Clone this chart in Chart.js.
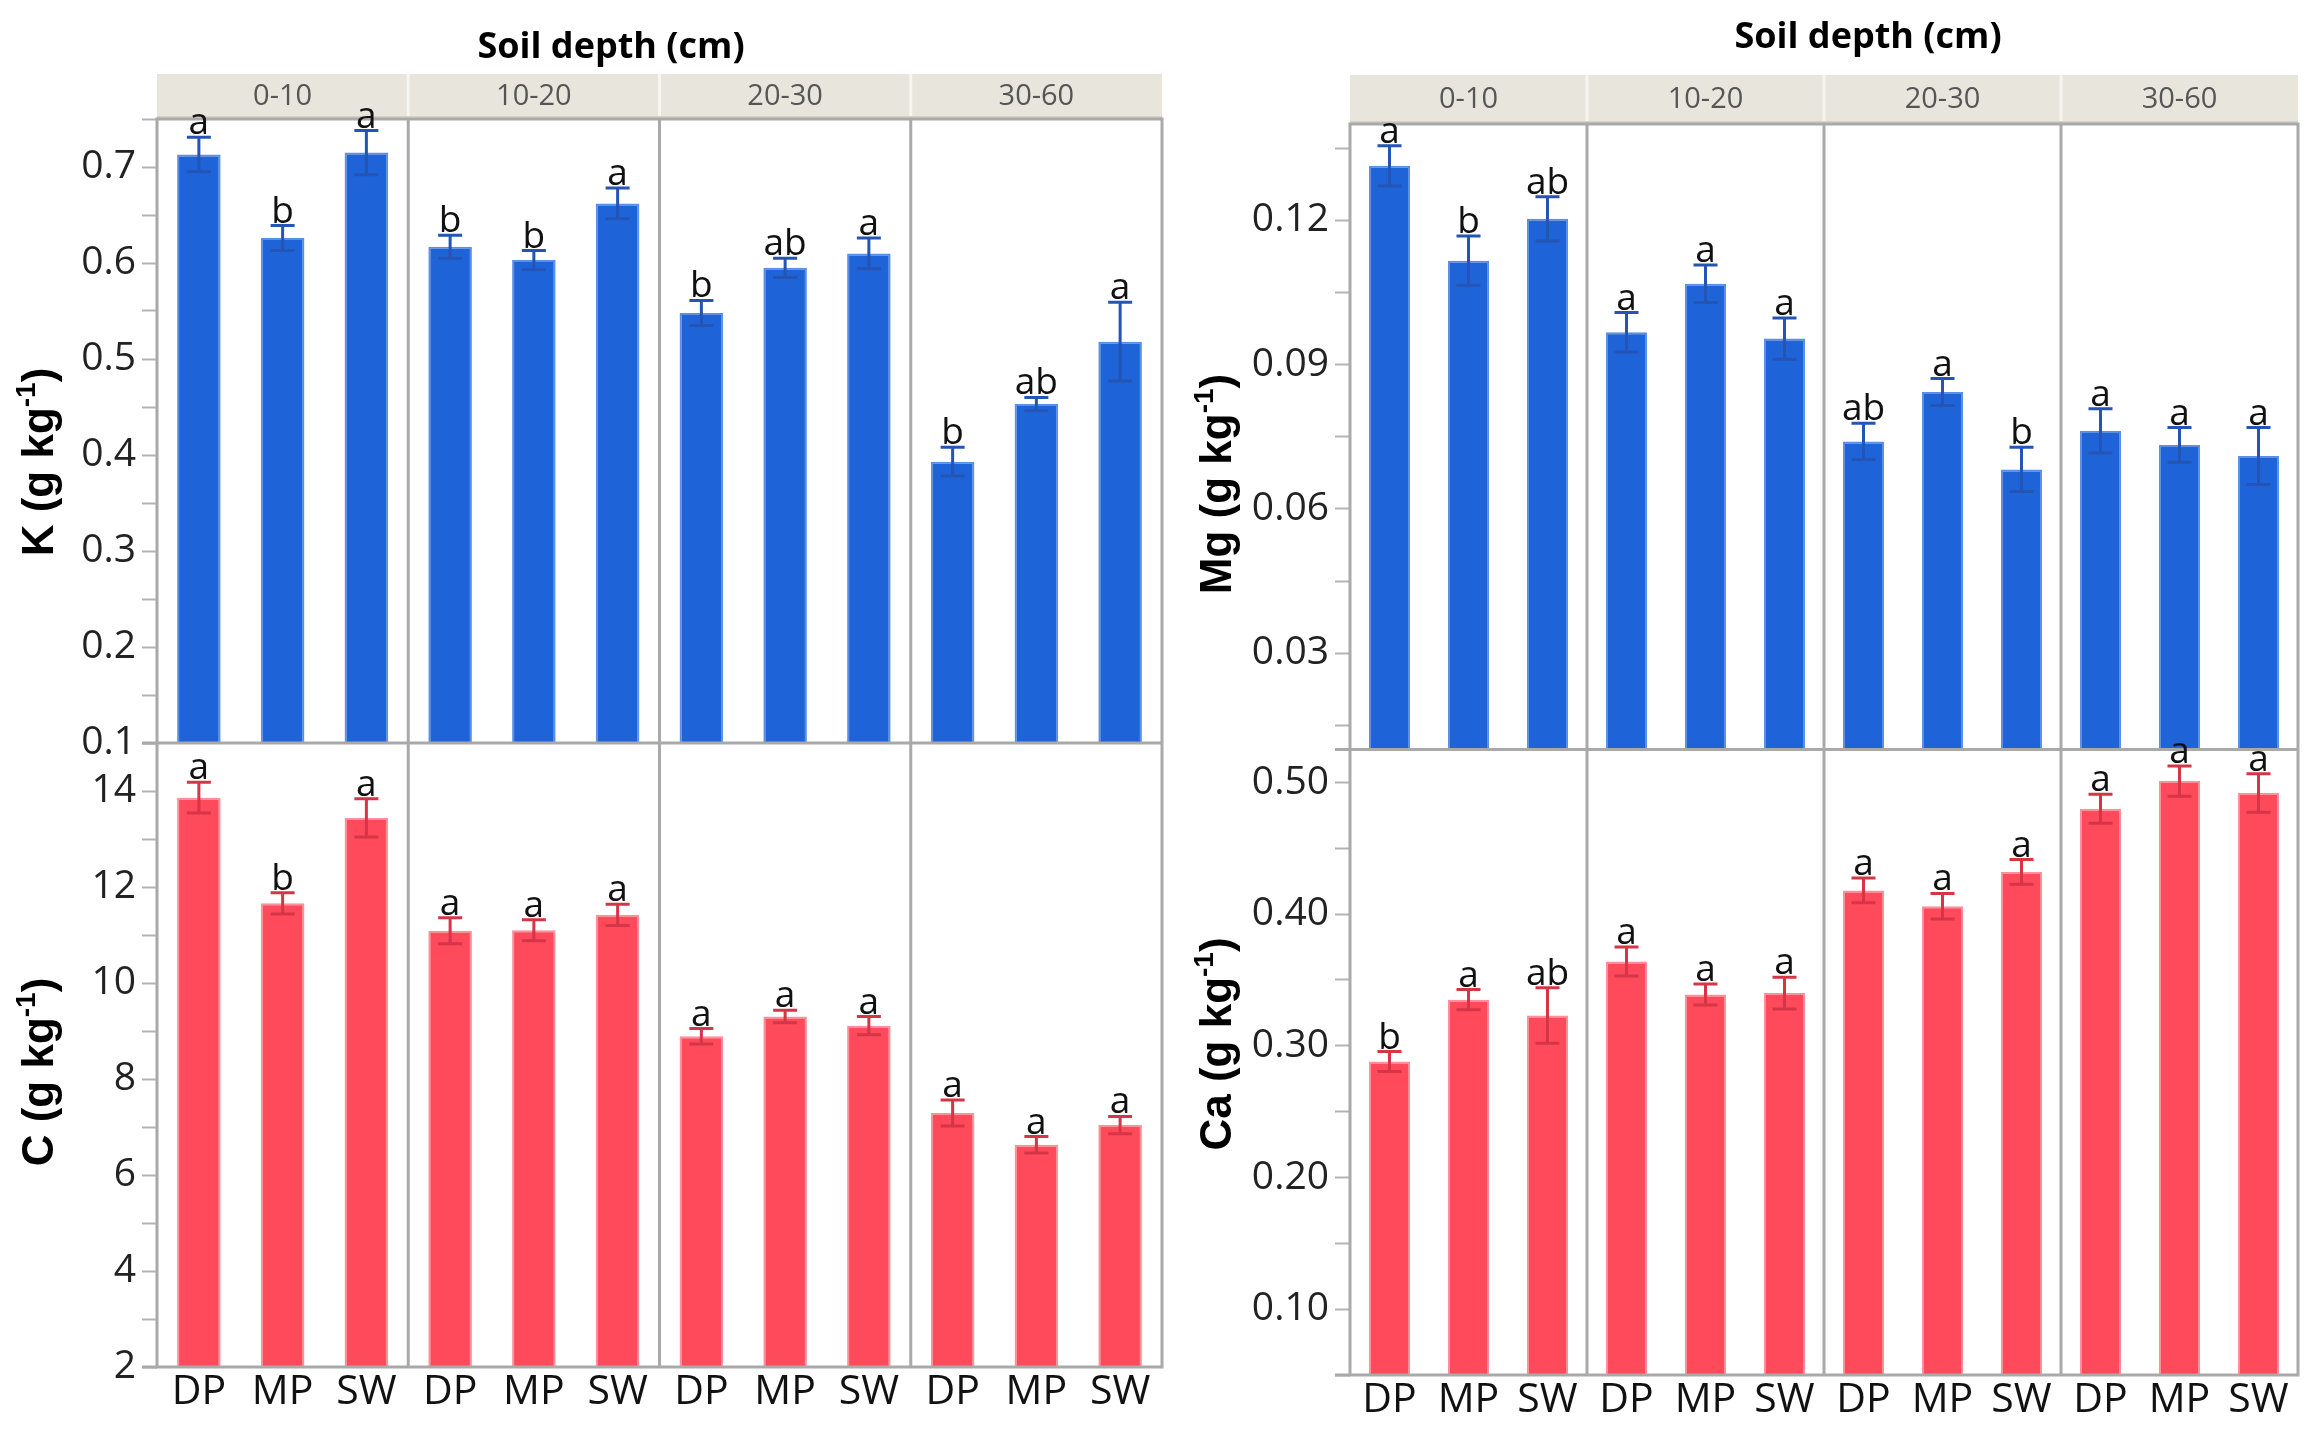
<!DOCTYPE html>
<html>
<head>
<meta charset="utf-8">
<script src="https://cdn.jsdelivr.net/npm/chart.js@4.4.1/dist/chart.umd.min.js"></script>
<style>
  html, body { margin: 0; padding: 0; background: #fff; overflow: hidden; }
  #wrap { position: relative; width: 2320px; height: 1436px; }
  canvas { position: absolute; top: 0; }
  #left { left: 0; }
  #right { left: 1160px; }
</style>
</head>
<body>
<div id="wrap">
  <canvas id="left" width="1180" height="1436"></canvas>
  <canvas id="right" width="1160" height="1436"></canvas>
</div>
<script>
// facets and treatments
const depths = ['0-10', '10-20', '20-30', '30-60'];
const treatments = ['DP', 'MP', 'SW'];

// values per depth, order DP MP SW
const kMean = [0.713, 0.626, 0.715, 0.617, 0.603, 0.662, 0.548, 0.595, 0.610, 0.393, 0.453, 0.518];
const kErr = [0.018, 0.013, 0.023, 0.012, 0.010, 0.016, 0.013, 0.010, 0.016, 0.015, 0.007, 0.041];
const kLetters = ['a', 'b', 'a', 'b', 'b', 'a', 'b', 'ab', 'a', 'b', 'ab', 'a'];

const cMean = [13.86, 11.66, 13.44, 11.09, 11.10, 11.42, 8.89, 9.30, 9.11, 7.29, 6.63, 7.04];
const cErr = [0.32, 0.22, 0.40, 0.27, 0.22, 0.22, 0.16, 0.13, 0.19, 0.27, 0.17, 0.18];
const cLetters = ['a', 'b', 'a', 'a', 'a', 'a', 'a', 'a', 'a', 'a', 'a', 'a'];

const mgMean = [0.1313, 0.1116, 0.1203, 0.0967, 0.1068, 0.0954, 0.0740, 0.0843, 0.0682, 0.0762, 0.0733, 0.0710];
const mgErr = [0.0042, 0.0051, 0.0046, 0.0041, 0.0039, 0.0043, 0.0038, 0.0028, 0.0046, 0.0046, 0.0036, 0.0059];
const mgLetters = ['a', 'b', 'ab', 'a', 'a', 'a', 'ab', 'a', 'b', 'a', 'a', 'a'];

const caMean = [0.288, 0.335, 0.323, 0.364, 0.339, 0.340, 0.418, 0.406, 0.432, 0.480, 0.501, 0.492];
const caErr = [0.0076, 0.0077, 0.021, 0.011, 0.008, 0.012, 0.0094, 0.0097, 0.0094, 0.011, 0.0115, 0.0146];
const caLetters = ['b', 'a', 'ab', 'a', 'a', 'a', 'a', 'a', 'a', 'a', 'a', 'a'];

// labelled ticks
const kTicks = [0.1, 0.2, 0.3, 0.4, 0.5, 0.6, 0.7];
const cTicks = [2, 4, 6, 8, 10, 12, 14];
const mgTicks = [0.03, 0.06, 0.09, 0.12];
const caTicks = [0.10, 0.20, 0.30, 0.40, 0.50];

const labels = depths.flatMap(() => treatments);

const BLUE = '#1f63d8', BLUE_EDGE = '#5b8fe6', BLUE_ERR = '#2454b4';
const RED = '#ff4a5c', RED_EDGE = '#ff8f9a', RED_ERR = '#d63447';
const FRAME = '#a9a9a9';
const FONT = '"Open Sans"';

// tick marks every `step`, labels only on the listed values
function yAxis(stack, min, max, first, step, major, digits, width) {
  return {
    type: 'linear',
    position: 'left',
    stack: stack,
    stackWeight: 1,
    min: min,
    max: max,
    afterBuildTicks: s => {
      const t = [];
      for (let v = first; v <= max + 1e-9; v += step) t.push({ value: +v.toFixed(4) });
      s.ticks = t;
    },
    ticks: {
      autoSkip: false,
      padding: 6,
      color: '#222',
      font: { family: FONT, size: 39 },
      callback: v => {
        const hit = major.find(m => Math.abs(m - v) < 1e-6);
        return hit === undefined ? '' : hit.toFixed(digits);
      }
    },
    grid: { drawOnChartArea: false, drawTicks: true, tickLength: 15, tickWidth: 2, tickColor: '#b4b4b4' },
    border: { display: false },
    afterFit: s => { s.width = width; }
  };
}

// rotated axis title with a real superscript
function drawYTitle(ctx, t) {
  const big = 'bold 44px "Liberation Sans"', small = 'bold 28px "Liberation Sans"';
  ctx.font = big;
  const w1 = ctx.measureText(t.main).width, w3 = ctx.measureText(')').width;
  ctx.font = small;
  const w2 = ctx.measureText('-1').width;
  const total = w1 + w2 + w3;
  ctx.save();
  ctx.translate(t.x, t.y);
  ctx.rotate(-Math.PI / 2);
  ctx.fillStyle = '#000';
  ctx.textAlign = 'left';
  ctx.textBaseline = 'middle';
  let x = -total / 2;
  ctx.font = big; ctx.fillText(t.main, x, 0); x += w1;
  ctx.font = small; ctx.fillText('-1', x, -14); x += w2;
  ctx.font = big; ctx.fillText(')', x, 0);
  ctx.restore();
}

const facetPlugin = {
  id: 'facets',
  afterDatasetsDraw(chart, args, opts) {
    const { ctx, chartArea: a, scales } = chart;
    const w = (a.right - a.left) / depths.length;
    ctx.save();

    // header strip
    ctx.fillStyle = '#e8e6dc';
    ctx.fillRect(a.left, opts.stripTop, a.right - a.left, a.top - opts.stripTop);
    ctx.strokeStyle = '#d5d2c4';
    ctx.lineWidth = 2;
    ctx.beginPath();
    ctx.moveTo(a.left, a.top - 2); ctx.lineTo(a.right, a.top - 2);
    ctx.stroke();
    ctx.fillStyle = '#555';
    ctx.font = '29px ' + FONT;
    ctx.textAlign = 'center';
    ctx.textBaseline = 'middle';
    depths.forEach((d, k) => {
      ctx.fillText(d, a.left + (k + 0.5) * w, (opts.stripTop + a.top) / 2);
    });
    ctx.strokeStyle = '#f6f5f0';
    ctx.lineWidth = 3;
    for (let k = 1; k < depths.length; k++) {
      ctx.beginPath();
      ctx.moveTo(a.left + k * w, opts.stripTop); ctx.lineTo(a.left + k * w, a.top - 3);
      ctx.stroke();
    }

    // title
    ctx.fillStyle = '#000';
    ctx.font = 'bold 36px ' + FONT;
    ctx.fillText('Soil depth (cm)', opts.titleX, opts.titleY);

    opts.yTitles.forEach(t => drawYTitle(ctx, t));

    // frames and dividers
    ctx.strokeStyle = FRAME;
    ctx.lineWidth = 3;
    ctx.strokeRect(a.left, a.top, a.right - a.left, a.bottom - a.top);
    const mid = scales[opts.topAxis].bottom;
    ctx.beginPath();
    ctx.moveTo(a.left - 15, mid); ctx.lineTo(a.right, mid);
    ctx.moveTo(a.left - 15, a.bottom); ctx.lineTo(a.left, a.bottom);
    for (let k = 1; k < depths.length; k++) {
      ctx.moveTo(a.left + k * w, a.top); ctx.lineTo(a.left + k * w, a.bottom);
    }
    ctx.stroke();

    // error bars and letters
    chart.data.datasets.forEach((ds, di) => {
      const meta = chart.getDatasetMeta(di);
      const ys = scales[ds.yAxisID];
      meta.data.forEach((bar, i) => {
        const hi = ys.getPixelForValue(ds.data[i] + ds.err[i]);
        const lo = ys.getPixelForValue(ds.data[i] - ds.err[i]);
        ctx.strokeStyle = ds.errColor;
        ctx.lineWidth = 3;
        ctx.beginPath();
        ctx.moveTo(bar.x, hi); ctx.lineTo(bar.x, lo);
        ctx.moveTo(bar.x - 12, hi); ctx.lineTo(bar.x + 12, hi);
        ctx.moveTo(bar.x - 12, lo); ctx.lineTo(bar.x + 12, lo);
        ctx.stroke();
        ctx.fillStyle = '#111';
        ctx.font = '37px ' + FONT;
        ctx.textAlign = 'center';
        ctx.textBaseline = 'alphabetic';
        ctx.fillText(ds.letters[i], bar.x, hi - 3);
      });
    });
    ctx.restore();
  }
};

function barSet(data, err, letters, axis, color, edge, errColor) {
  return {
    data: data, err: err, letters: letters, errColor: errColor,
    yAxisID: axis, xAxisID: 'x',
    backgroundColor: color, borderColor: edge, borderWidth: 2,
    grouped: false, barPercentage: 0.52, categoryPercentage: 1
  };
}

function xAxis(height) {
  return {
    type: 'category',
    grid: { display: false, drawTicks: false },
    border: { display: false },
    ticks: { color: '#111', font: { family: FONT, size: 41 }, padding: 1, autoSkip: false, maxRotation: 0 },
    afterFit: s => { s.height = height; }
  };
}

new Chart(document.getElementById('left'), {
  type: 'bar',
  data: {
    labels: labels,
    datasets: [
      barSet(kMean, kErr, kLetters, 'yK', BLUE, BLUE_EDGE, BLUE_ERR),
      barSet(cMean, cErr, cLetters, 'yC', RED, RED_EDGE, RED_ERR)
    ]
  },
  options: {
    responsive: false,
    animation: false,
    layout: { padding: { top: 119, right: 18, bottom: 9, left: 0 } },
    plugins: {
      legend: { display: false },
      tooltip: { enabled: false },
      facets: {
        stripTop: 74, titleX: 611, titleY: 48, topAxis: 'yK',
        yTitles: [{ main: 'K (g kg', x: 41, y: 462 }, { main: 'C (g kg', x: 41, y: 1072 }]
      }
    },
    scales: {
      x: xAxis(60),
      yC: yAxis('L', 2, 15, 2, 1, cTicks, 0, 157),
      yK: yAxis('L', 0.1, 0.75, 0.1, 0.05, kTicks, 1, 157)
    }
  },
  plugins: [facetPlugin]
});

new Chart(document.getElementById('right'), {
  type: 'bar',
  data: {
    labels: labels,
    datasets: [
      barSet(mgMean, mgErr, mgLetters, 'yMg', BLUE, BLUE_EDGE, BLUE_ERR),
      barSet(caMean, caErr, caLetters, 'yCa', RED, RED_EDGE, RED_ERR)
    ]
  },
  options: {
    responsive: false,
    animation: false,
    layout: { padding: { top: 124, right: 22, bottom: 11, left: 0 } },
    plugins: {
      legend: { display: false },
      tooltip: { enabled: false },
      facets: {
        stripTop: 75, titleX: 708, titleY: 38, topAxis: 'yMg',
        yTitles: [{ main: 'Mg (g kg', x: 59, y: 484 }, { main: 'Ca (g kg', x: 59, y: 1044 }]
      }
    },
    scales: {
      x: xAxis(50),
      yCa: yAxis('R', 0.05, 0.525, 0.05, 0.05, caTicks, 2, 190),
      yMg: yAxis('R', 0.01, 0.14, 0.015, 0.015, mgTicks, 2, 190)
    }
  },
  plugins: [facetPlugin]
});
</script>
</body>
</html>
